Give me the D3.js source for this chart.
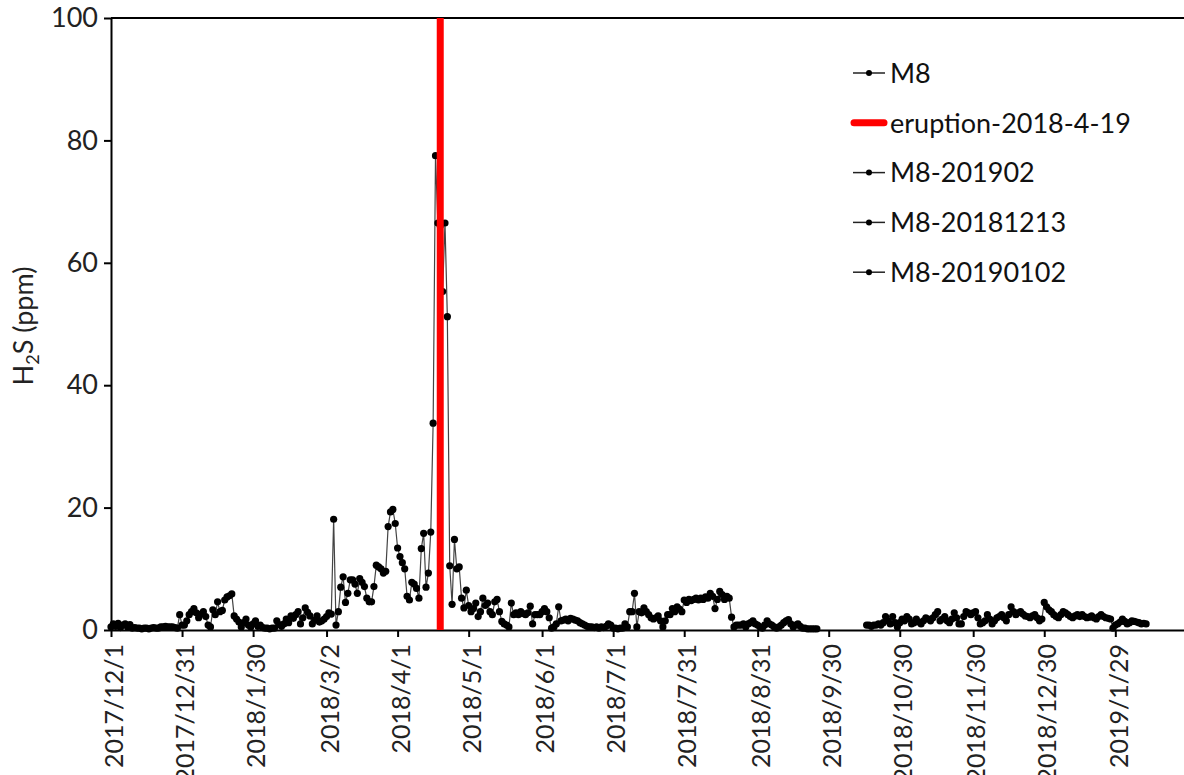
<!DOCTYPE html>
<html>
<head>
<meta charset="utf-8">
<script src="https://cdn.jsdelivr.net/npm/d3@7"></script>
<style>
  body { margin: 0; background: #fff; }
  text { font-family: Lato, "Liberation Sans", sans-serif; }
</style>
</head>
<body>
<svg width="1184" height="775"></svg>
<script>
// M8 daily H2S, first block starts 2017-12-01
var seg1Start = "2017-12-01";
var m8Seg1 = [
  0.5, 1.0, 0.6, 1.1, 0.4, 0.8, 1.0, 0.5, 0.9, 0.3,
  0.4, 0.3, 0.3, 0.2, 0.3, 0.3, 0.2, 0.3, 0.4, 0.3,
  0.3, 0.5, 0.5, 0.6, 0.5, 0.5, 0.5, 0.4, 0.3, 2.5,
  0.8, 0.8, 1.5, 2.5, 3.0, 3.5, 2.8, 2.0, 2.6, 3.0,
  2.2, 0.8, 0.5, 3.3, 2.5, 4.6, 3.0, 3.2, 4.9, 5.4,
  5.6, 5.9, 2.3, 1.8, 1.3, 0.5, 1.2, 1.8, 0.8, 0.5,
  1.0, 1.5, 0.6, 0.8, 0.4, 0.3, 0.3, 0.2, 0.3, 0.3,
  1.5, 0.9, 0.6, 1.0, 1.8, 1.2, 2.3, 1.9, 2.5, 3.0,
  1.0, 2.0, 3.6, 2.9, 2.3, 1.0, 1.6, 2.3, 1.3, 1.5,
  1.8, 2.2, 2.8, 2.6, 18.1, 0.8, 3.0, 7.0, 8.7, 4.5,
  6.0, 8.2, 8.2, 7.5, 6.0, 8.4, 7.8, 7.1, 5.2, 4.6,
  4.6, 7.1, 10.6, 10.3, 10.0, 9.3, 9.6, 16.9, 19.3, 19.7,
  17.4, 13.4, 12.0, 11.0, 10.0, 5.5, 4.9, 7.8, 7.5, 6.8,
  5.2, 13.3, 15.8, 7.0, 9.3, 16.0, 33.8, 77.5, 66.5, 66.0,
  55.3, 66.5, 51.2, 10.5, 4.2, 14.8, 10.0, 10.3, 5.2, 3.6,
  6.5, 4.0, 3.0, 3.5, 4.4, 2.2, 3.0, 5.2, 4.0, 4.4,
  3.0, 2.5, 4.6, 5.0, 3.0, 1.4, 1.0, 0.8, 0.5, 4.4,
  2.5, 2.8, 2.5, 3.0, 2.7, 2.5, 2.8, 3.9, 1.0, 2.5,
  2.5, 2.5, 3.0, 3.5, 3.0, 2.0, 0.3, 0.5, 1.0, 3.8,
  1.5, 1.6, 1.8, 1.5, 1.9, 1.8, 1.6, 1.5, 1.2, 1.0,
  0.8, 0.6, 0.5, 0.5, 0.4, 0.5, 0.3, 0.5, 0.4, 0.6,
  1.0, 0.8, 0.3, 0.3, 0.2, 0.3, 0.3, 1.0, 0.5, 3.0,
  3.0, 6.0, 0.5, 3.0, 2.8, 3.6, 3.0, 2.5, 2.0, 1.8,
  2.0, 2.3, 1.5, 0.5, 1.5, 2.5, 2.5, 3.5, 3.0, 3.8,
  3.4, 3.0, 4.9, 4.5, 5.0, 4.8, 5.0, 5.2, 4.9, 5.2,
  5.0, 5.4, 5.2, 6.0, 5.5, 3.5, 5.0, 6.3, 5.8, 5.0,
  5.5, 5.2, 2.1, 0.5, 0.8, 0.8, 0.8, 1.0, 0.5, 1.0,
  1.2, 1.5, 1.0, 0.8, 0.5, 0.3, 0.8, 1.5, 1.0, 0.8,
  0.5, 0.3, 0.5, 0.8, 1.2, 1.5, 1.7, 1.0, 0.5, 0.8,
  1.0, 0.6, 0.3, 0.3, 0.2, 0.2, 0.2, 0.2, 0.2
];
// second block after the data gap
var seg2Start = "2018-10-16";
var m8Seg2 = [
  0.8, 0.8, 0.6, 0.8, 0.8, 1.0, 0.8, 1.2, 2.2, 1.5,
  1.0, 2.2, 1.2, 0.5, 1.2, 1.8, 1.5, 2.2, 1.8, 1.0,
  1.2, 1.8, 1.3, 1.0, 1.5, 2.0, 1.8, 1.5, 2.0, 2.5,
  3.0, 1.5, 1.8, 2.2, 1.5, 1.2, 1.8, 2.8, 2.0, 1.0,
  1.0, 2.2, 3.0, 2.8, 2.5, 2.8, 3.0, 2.0, 1.0, 1.2,
  1.5, 2.5, 1.8, 1.0, 1.5, 2.0, 2.2, 2.5, 2.0, 1.5,
  2.5, 3.8, 3.0, 2.5, 2.8, 3.0, 2.6, 2.3, 2.2, 2.0,
  2.3, 2.5, 2.0, 1.5, 1.8, 4.5, 3.8, 3.3, 3.0, 2.5,
  2.2, 2.0, 2.5, 3.0, 2.8, 2.5, 2.2, 2.0, 2.3, 2.5,
  2.2, 2.5, 2.2, 2.0, 2.1, 2.3, 2.0, 1.8, 2.2, 2.5,
  2.2, 2.0, 1.9, 1.8, 0.3, 0.8, 1.0, 1.3, 1.8, 1.4,
  1.0, 1.2, 1.5, 1.4, 1.3, 1.2, 1.0, 1.1, 1.0
];
var eruptionDate = "2018-04-19";
var xTickDates = ["2017-12-01","2017-12-31","2018-01-30","2018-03-02","2018-04-01","2018-05-01",
  "2018-06-01","2018-07-01","2018-07-31","2018-08-31","2018-09-30","2018-10-30",
  "2018-11-30","2018-12-30","2019-01-29"];
var yTicks = [0, 20, 40, 60, 80, 100];
var legendNames = ["M8", "eruption-2018-4-19", "M8-201902", "M8-20181213", "M8-20190102"];
var legendKinds = ["dot", "red", "dot", "dot", "dot"];

var parse = d3.utcParse("%Y-%m-%d");
var fmt = d3.utcFormat("%Y/%-m/%-d");

function toPoints(start, vals) {
  var s = parse(start);
  return vals.map(function (v, i) { return { date: d3.utcDay.offset(s, i), v: v }; });
}
var seg1 = toPoints(seg1Start, m8Seg1);
var seg2 = toPoints(seg2Start, m8Seg2);

var svg = d3.select("svg");
var pLeft = 111, pRight = 1184, pTop = 18, pBottom = 630;

var x = d3.scaleUtc().domain([parse("2017-12-01"), parse("2019-02-27")]).range([pLeft, pRight]);
var y = d3.scaleLinear().domain([0, 100]).range([pBottom, pTop]);

// top border
svg.append("line").attr("x1", pLeft).attr("x2", pRight).attr("y1", pTop).attr("y2", pTop)
  .attr("stroke", "#000").attr("stroke-width", 2);

// y axis
var yAxis = svg.append("g").attr("transform", "translate(" + pLeft + ",0)")
  .call(d3.axisLeft(y).tickValues(yTicks).tickSize(7).tickSizeOuter(0).tickPadding(6));
yAxis.select(".domain").attr("stroke-width", 2);
yAxis.selectAll(".tick line").attr("stroke-width", 2);
yAxis.selectAll("text").attr("font-size", 27).attr("fill", "#222")
  .style("font-family", "Lato, 'Liberation Sans', sans-serif");

// x axis
var xAxis = svg.append("g").attr("transform", "translate(0," + pBottom + ")")
  .call(d3.axisBottom(x).tickValues(xTickDates.map(parse)).tickFormat(fmt).tickSize(7).tickSizeOuter(0));
xAxis.select(".domain").attr("stroke-width", 2);
xAxis.selectAll(".tick line").attr("stroke-width", 2);
xAxis.selectAll("text")
  .attr("font-size", 25).attr("fill", "#222")
  .style("font-family", "Lato, 'Liberation Sans', sans-serif")
  .attr("text-anchor", "end")
  .attr("transform", "rotate(-90)")
  .attr("x", -14).attr("y", 3).attr("dy", "0.35em");

// y title
var yt = svg.append("text").attr("transform", "translate(33,326) rotate(-90)")
  .attr("text-anchor", "middle").attr("font-size", 27).attr("fill", "#222");
yt.append("tspan").text("H");
yt.append("tspan").text("2").attr("font-size", 18).attr("dy", 6);
yt.append("tspan").text("S (ppm)").attr("dy", -6);

// series
var line = d3.line().x(function (d) { return x(d.date); }).y(function (d) { return y(d.v); });
[seg1, seg2].forEach(function (seg) {
  svg.append("path").datum(seg).attr("d", line)
    .attr("fill", "none").attr("stroke", "#444").attr("stroke-width", 1.2);
  svg.append("g").selectAll("circle").data(seg).join("circle")
    .attr("cx", function (d) { return x(d.date); })
    .attr("cy", function (d) { return y(d.v); })
    .attr("r", 3.6).attr("fill", "#000");
});

// eruption line
var ex = x(parse(eruptionDate));
svg.append("line").attr("x1", ex).attr("x2", ex).attr("y1", pTop).attr("y2", pBottom)
  .attr("stroke", "#ff0000").attr("stroke-width", 7);

// legend
var lg = svg.append("g");
legendNames.forEach(function (name, i) {
  var ly = 73 + i * 49.8;
  if (legendKinds[i] === "red") {
    lg.append("line").attr("x1", 854).attr("x2", 884).attr("y1", ly).attr("y2", ly)
      .attr("stroke", "#ff0000").attr("stroke-width", 7).attr("stroke-linecap", "round");
  } else {
    lg.append("line").attr("x1", 853).attr("x2", 885).attr("y1", ly).attr("y2", ly)
      .attr("stroke", "#222").attr("stroke-width", 1.5);
    lg.append("circle").attr("cx", 869).attr("cy", ly).attr("r", 3).attr("fill", "#000");
  }
  lg.append("text").attr("x", 890).attr("y", ly).attr("dy", "0.36em")
    .attr("font-size", 27).attr("fill", "#111").text(name);
});
</script>
</body>
</html>
